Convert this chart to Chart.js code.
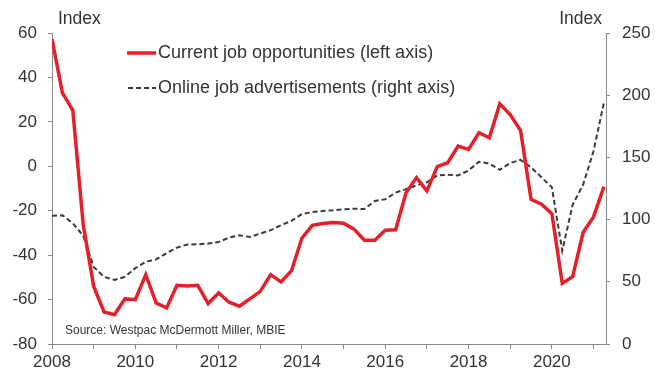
<!DOCTYPE html>
<html>
<head>
<meta charset="utf-8">
<script src="https://cdn.jsdelivr.net/npm/chart.js@4.4.1/dist/chart.umd.min.js"></script>
<style>
  html, body { margin: 0; padding: 0; background: #fff; }
  #wrap { width: 655px; height: 374px; position: relative; }
</style>
</head>
<body>
<div id="wrap"><canvas id="jobs"></canvas></div>
<script>
// quarterly, Q1 2008 .. Q2 2021
const firstYear = 2008;
const quarterCount = 54;

// current job opportunities, net % (left axis)
const jobOpportunities = [
    57.3, 33.0, 25.2, -26.3,
    -54.0, -65.6, -66.8, -59.7,
    -60.0, -48.8, -61.5, -63.8,
    -53.6, -53.9, -53.6, -61.8,
    -57.0, -61.2, -63.0, -59.7,
    -56.3, -48.8, -52.1, -47.0,
    -32.3, -26.6, -25.8, -25.3,
    -25.6, -28.3, -33.3, -33.3,
    -28.8, -28.6, -11.9, -5.1,
    -11.1, -0.2, 1.6, 9.1,
    7.6, 15.1, 12.8, 28.1,
    23.3, 16.1, -14.9, -17.1,
    -21.3, -52.7, -49.7, -29.8,
    -22.8, -9.2
];

// online job advertisements index (right axis)
const onlineAds = [
    103, 103.5, 97, 87,
    62, 54, 51.5, 54,
    61, 66, 68, 73,
    77.5, 80, 80.2, 80.7,
    82, 85.5, 87.4, 86,
    88.8, 91.5, 95.5, 99,
    104.5, 106, 107, 107.5,
    108.3, 108.8, 108.5, 115,
    116.3, 121.7, 124.5, 127.5,
    130, 135.5, 136, 135.5,
    139.5, 146.5, 145, 140,
    145.5, 148, 142, 134,
    126, 75, 112, 128,
    155, 194
];

const seriesNames = [
    'Current job opportunities (left axis)',
    'Online job advertisements (right axis)'
];
const sourceNote = 'Source: Westpac McDermott Miller, MBIE';

const quarterX = [];
for (let i = 0; i < quarterCount; i++) quarterX.push(firstYear + i / 4);

const toPoints = (vals) => vals.map((v, i) => ({ x: quarterX[i], y: v }));

const FONT = '"Liberation Sans", Arial, sans-serif';
const TEXT = '#333333';
const AXIS = '#8a8a8a';
const RED = '#e3212b';
const DASH = '#3a3a3a';

// legend, axis titles and source note drawn onto the canvas
const annotations = {
    id: 'annotations',
    afterDraw(chart) {
        const ctx = chart.ctx;
        ctx.save();
        ctx.fillStyle = TEXT;
        ctx.textBaseline = 'middle';
        ctx.font = '17.5px ' + FONT;
        ctx.textAlign = 'left';
        ctx.fillText('Index', 58, 19);
        ctx.textAlign = 'right';
        ctx.fillText('Index', 602, 19);

        // legend
        ctx.font = '18px ' + FONT;
        ctx.textAlign = 'left';
        ctx.strokeStyle = RED;
        ctx.lineWidth = 3.5;
        ctx.beginPath();
        ctx.moveTo(127, 53);
        ctx.lineTo(156, 53);
        ctx.stroke();
        ctx.fillText(seriesNames[0], 158, 53);

        ctx.strokeStyle = DASH;
        ctx.lineWidth = 2;
        ctx.setLineDash([5, 3]);
        ctx.beginPath();
        ctx.moveTo(128, 88);
        ctx.lineTo(156, 88);
        ctx.stroke();
        ctx.setLineDash([]);
        ctx.fillText(seriesNames[1], 158, 88);

        ctx.font = '12px ' + FONT;
        ctx.fillText(sourceNote, 65, 331);
        ctx.restore();
    }
};

const axisGrid = {
    display: true,
    drawOnChartArea: false,
    drawTicks: true,
    tickLength: 4,
    color: AXIS
};
const tickFont = { family: FONT, size: 17 };

const chart = new Chart(document.getElementById('jobs'), {
    type: 'line',
    data: {
        datasets: [
            {
                label: seriesNames[0],
                data: toPoints(jobOpportunities),
                yAxisID: 'yLeft',
                borderColor: RED,
                borderWidth: 3.5,
                pointRadius: 0,
                tension: 0,
                order: 1
            },
            {
                label: seriesNames[1],
                data: toPoints(onlineAds),
                yAxisID: 'yRight',
                borderColor: DASH,
                borderWidth: 2,
                borderDash: [5, 3],
                pointRadius: 0,
                tension: 0,
                order: 2
            }
        ]
    },
    options: {
        responsive: true,
        maintainAspectRatio: false,
        animation: false,
        layout: { padding: { top: 33, left: 0, right: 0, bottom: 0 } },
        plugins: {
            legend: { display: false },
            tooltip: { enabled: false }
        },
        scales: {
            x: {
                type: 'linear',
                min: 2008,
                max: 2021.3,
                grid: { ...axisGrid, tickLength: 5 },
                border: { display: true, color: AXIS, width: 1 },
                afterFit: (s) => { s.height = 30; },
                afterBuildTicks: (s) => {
                    const t = [];
                    for (let y = 2008; y <= 2021; y++) t.push({ value: y });
                    s.ticks = t;
                },
                ticks: {
                    autoSkip: false,
                    maxRotation: 0,
                    padding: 3,
                    color: TEXT,
                    font: tickFont,
                    callback: (v) => (v % 2 === 0 ? String(v) : '')
                }
            },
            yLeft: {
                position: 'left',
                min: -80,
                max: 60,
                grid: axisGrid,
                border: { display: true, color: AXIS, width: 1 },
                afterFit: (s) => { s.width = 52; },
                ticks: { stepSize: 20, padding: 11, color: TEXT, font: tickFont }
            },
            yRight: {
                position: 'right',
                min: 0,
                max: 250,
                grid: axisGrid,
                border: { display: true, color: AXIS, width: 1 },
                afterFit: (s) => { s.width = 49; },
                ticks: { stepSize: 50, padding: 12, color: TEXT, font: tickFont }
            }
        }
    },
    plugins: [annotations]
});
</script>
</body>
</html>
